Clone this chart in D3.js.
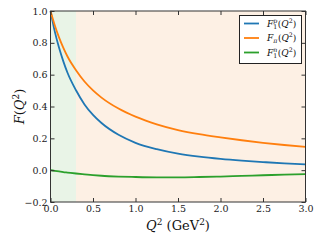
<!DOCTYPE html>
<html>
<head>
<meta charset="utf-8">
<script src="https://cdn.jsdelivr.net/npm/d3@7"></script>
<style>
  html, body { margin: 0; padding: 0; background: #fff; }
  svg { display: block; }
</style>
</head>
<body>
<svg id="wykres" width="320" height="240"></svg>
<script>
// dane
let q2 = [0, 0.05, 0.1, 0.15, 0.2, 0.3, 0.4, 0.5, 0.6, 0.8, 1.0, 1.25, 1.5, 1.75, 2.0, 2.25, 2.5, 2.75, 3.0];
let protonF1 = [1.0, 0.872, 0.77, 0.685, 0.612, 0.502, 0.413, 0.347, 0.296, 0.222, 0.172, 0.132, 0.104, 0.085, 0.071, 0.06, 0.051, 0.043, 0.037];
let pionF = [1.0, 0.91, 0.834, 0.77, 0.714, 0.628, 0.557, 0.501, 0.456, 0.387, 0.336, 0.288, 0.252, 0.226, 0.206, 0.188, 0.172, 0.158, 0.146];
let neutronF1 = [0, -0.004, -0.008, -0.012, -0.015, -0.021, -0.026, -0.031, -0.035, -0.04, -0.043, -0.045, -0.045, -0.043, -0.04, -0.036, -0.032, -0.028, -0.025];

let xTicks = [0, 0.5, 1.0, 1.5, 2.0, 2.5, 3.0];
let yTicks = [-0.2, 0, 0.2, 0.4, 0.6, 0.8, 1.0];
let regiony = [[0, 0.3, '#e9f4e7'], [0.3, 3.0, '#fdf0e4']];

let seria = [
  {y: protonF1, kolor: '#1f77b4', sub: '1', sup: 'p'},
  {y: pionF, kolor: '#ff7f0e', sub: 'π', sup: null},
  {y: neutronF1, kolor: '#2ca02c', sub: '1', sup: 'n'}
];

let lewo = 50.5, prawo = 305.5, gora = 11, dol = 202;
let szeryf = 'DejaVu Serif, serif';

let svg = d3.select('#wykres');

let x = d3.scaleLinear().domain([0, 3]).range([lewo, prawo]);
let y = d3.scaleLinear().domain([-0.2, 1.0]).range([dol, gora]);

// tło
svg.selectAll('rect.region').data(regiony).enter().append('rect')
  .attr('class', 'region')
  .attr('x', d => x(d[0])).attr('width', d => x(d[1]) - x(d[0]))
  .attr('y', gora).attr('height', dol - gora)
  .attr('fill', d => d[2]);

// linie
let line = d3.line()
  .x((d, i) => x(q2[i]))
  .y(d => y(d))
  .curve(d3.curveMonotoneX);

svg.selectAll('path.seria').data(seria).enter().append('path')
  .attr('class', 'seria')
  .attr('d', d => line(d.y))
  .attr('fill', 'none')
  .attr('stroke', d => d.kolor)
  .attr('stroke-width', 1.8);

// osie
function styl(g) {
  g.select('.domain').remove();
  g.selectAll('line').attr('stroke', '#333');
  g.selectAll('text').attr('font-family', szeryf).attr('font-size', 9.5).attr('fill', '#222');
}
let fmt = d3.format('.1f');
svg.append('g').attr('transform', `translate(${lewo},0)`)
  .call(d3.axisLeft(y).tickValues(yTicks).tickFormat(fmt).tickSizeInner(-4).tickSizeOuter(0).tickPadding(3))
  .call(styl);
svg.append('g').attr('transform', `translate(${prawo},0)`)
  .call(d3.axisRight(y).tickValues(yTicks).tickFormat('').tickSizeInner(-4).tickSizeOuter(0))
  .call(styl);
svg.append('g').attr('transform', `translate(0,${dol})`)
  .call(d3.axisBottom(x).tickValues(xTicks).tickFormat(fmt).tickSizeInner(-4).tickSizeOuter(0).tickPadding(3))
  .call(styl);
svg.append('g').attr('transform', `translate(0,${gora})`)
  .call(d3.axisTop(x).tickValues(xTicks).tickFormat('').tickSizeInner(-4).tickSizeOuter(0))
  .call(styl);

// ramka
svg.append('rect')
  .attr('x', lewo).attr('y', gora).attr('width', prawo - lewo).attr('height', dol - gora)
  .attr('fill', 'none').attr('stroke', '#333').attr('stroke-width', 1);

// podpisy osi
let xl = svg.append('text')
  .attr('x', (lewo + prawo) / 2).attr('y', 230)
  .attr('text-anchor', 'middle')
  .attr('font-family', szeryf).attr('font-size', 13).attr('fill', '#111');
xl.append('tspan').attr('font-style', 'italic').text('Q');
xl.append('tspan').attr('font-size', 9).attr('dy', -5.5).text('2');
xl.append('tspan').attr('dy', 5.5).text(' (GeV');
xl.append('tspan').attr('font-size', 9).attr('dy', -5.5).text('2');
xl.append('tspan').attr('dy', 5.5).text(')');

let yl = svg.append('text')
  .attr('transform', `translate(24,${(gora + dol) / 2}) rotate(-90)`)
  .attr('text-anchor', 'middle')
  .attr('font-family', szeryf).attr('font-size', 13).attr('fill', '#111');
yl.append('tspan').attr('font-style', 'italic').text('F');
yl.append('tspan').text('(');
yl.append('tspan').attr('font-style', 'italic').text('Q');
yl.append('tspan').attr('font-size', 9).attr('dy', -5.5).text('2');
yl.append('tspan').attr('dy', 5.5).text(')');

// legenda
let leg = svg.append('g');
leg.append('rect')
  .attr('x', 239.5).attr('y', 15.5).attr('width', 62).attr('height', 48)
  .attr('fill', '#fff').attr('stroke', '#222').attr('stroke-width', 1);

seria.forEach((s, i) => {
  let yy = 23.5 + i * 14.5;
  leg.append('line')
    .attr('x1', 244).attr('x2', 259).attr('y1', yy).attr('y2', yy)
    .attr('stroke', s.kolor).attr('stroke-width', 1.8);
  let t = leg.append('g').attr('font-family', szeryf).attr('fill', '#111');
  let x0 = 267, b = yy + 3.2;
  let f = t.append('text').attr('x', x0).attr('y', b).attr('font-size', 9).attr('font-style', 'italic').text('F');
  let w = f.node().getComputedTextLength();
  let sb = t.append('text').attr('x', x0 + w).attr('y', b + 2).attr('font-size', 6.3).attr('font-style', s.sub === '1' ? 'normal' : 'italic').text(s.sub);
  let sw = sb.node().getComputedTextLength();
  if (s.sup) {
    let sp = t.append('text').attr('x', x0 + w).attr('y', b - 3.8).attr('font-size', 6.3).attr('font-style', 'italic').text(s.sup);
    sw = Math.max(sw, sp.node().getComputedTextLength());
  }
  let r = t.append('text').attr('x', x0 + w + sw + 0.5).attr('y', b).attr('font-size', 9);
  r.append('tspan').text('(');
  r.append('tspan').attr('font-style', 'italic').text('Q');
  r.append('tspan').attr('font-size', 6.3).attr('dy', -3.8).text('2');
  r.append('tspan').attr('dy', 3.8).text(')');
});
</script>
</body>
</html>
